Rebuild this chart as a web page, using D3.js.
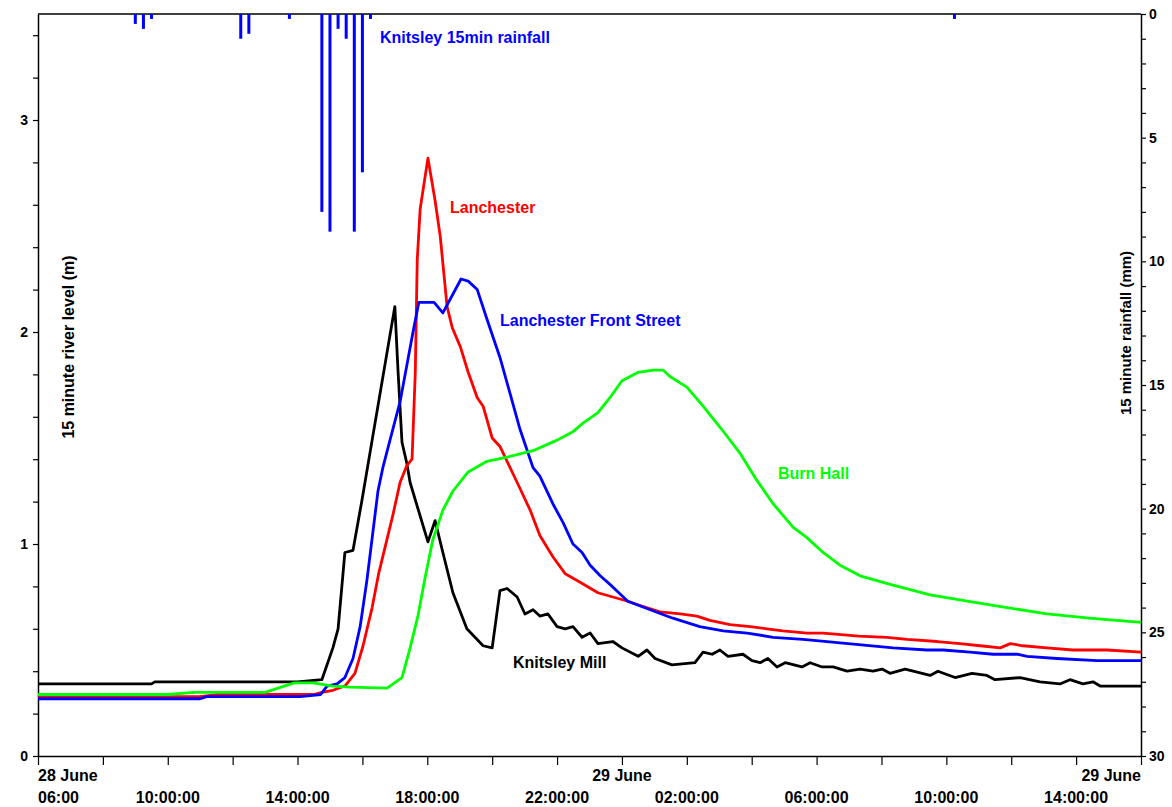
<!DOCTYPE html>
<html><head><meta charset="utf-8">
<script src="https://cdn.jsdelivr.net/npm/d3@7"></script>
<style>
body{margin:0;background:#fff}
svg{display:block}
text{font-family:"Liberation Sans",Arial,sans-serif}
</style>
</head><body>
<svg id="chart" width="1172" height="807"></svg>
<script>
// ---------- DATA ----------
const startTime = "2007-06-28T06:00:00";
const endTime   = "2007-06-29T16:00:00";

const levelTickLabels = [0, 1, 2, 3];
const rainTickLabels  = [0, 5, 10, 15, 20, 25, 30];
const timeTickLabels  = [
  {t: "2007-06-28T10:00:00", row2: "10:00:00"},
  {t: "2007-06-28T14:00:00", row2: "14:00:00"},
  {t: "2007-06-28T18:00:00", row2: "18:00:00"},
  {t: "2007-06-28T22:00:00", row2: "22:00:00"},
  {t: "2007-06-29T02:00:00", row2: "02:00:00"},
  {t: "2007-06-29T06:00:00", row2: "06:00:00"},
  {t: "2007-06-29T10:00:00", row2: "10:00:00"},
  {t: "2007-06-29T14:00:00", row2: "14:00:00"}
];
const dayLabels = ["28 June", "29 June", "29 June"];

// Knitsley 15 min rainfall (mm)
const rainTimes = ["2007-06-28T09:00","2007-06-28T09:15","2007-06-28T09:30",
  "2007-06-28T12:15","2007-06-28T12:30","2007-06-28T13:45",
  "2007-06-28T14:45","2007-06-28T15:00","2007-06-28T15:15","2007-06-28T15:30",
  "2007-06-28T15:45","2007-06-28T16:00","2007-06-28T16:15","2007-06-29T10:15"];
const rainValues = [0.4, 0.6, 0.2, 1.0, 0.8, 0.2, 8.0, 8.8, 0.6, 1.0, 8.8, 6.4, 0.2, 0.2];

// River levels (m); times as hours after 28 June 06:00
const knitsleyHours = [0,3.5,3.6,8.0,8.75,9.09,9.25,9.46,9.71,9.99,10.3,11.0,11.1,11.22,11.37,11.47,12.02,12.24,12.48,12.79,13.22,13.72,14.0,14.24,14.46,14.77,15.01,15.26,15.47,15.72,16.0,16.25,16.49,16.77,17.02,17.26,17.72,18.0,18.5,18.77,19.02,19.54,20.25,20.5,20.78,21.02,21.27,21.73,22.01,22.26,22.5,22.78,23.03,23.55,23.8,24.17,24.51,24.94,25.34,25.74,26.02,26.26,26.73,27.5,27.74,28.27,28.79,29.25,29.5,30.27,30.89,31.5,31.81,32.21,32.52,32.74,33.26,34.0];
const knitsleyLevels = [0.34,0.34,0.35,0.35,0.36,0.51,0.60,0.96,0.97,1.21,1.49,2.12,1.81,1.48,1.38,1.29,1.01,1.11,0.96,0.77,0.60,0.52,0.51,0.78,0.79,0.75,0.67,0.69,0.66,0.67,0.61,0.60,0.61,0.56,0.58,0.53,0.54,0.51,0.47,0.50,0.46,0.43,0.44,0.49,0.48,0.50,0.47,0.48,0.45,0.44,0.46,0.42,0.44,0.42,0.44,0.42,0.42,0.40,0.41,0.40,0.41,0.39,0.41,0.38,0.40,0.37,0.39,0.38,0.36,0.37,0.35,0.34,0.36,0.34,0.35,0.33,0.33,0.33];

const lanchesterHours = [0,5.0,5.5,8.5,8.75,9.09,9.46,9.77,10.02,10.3,10.5,10.93,11.16,11.37,11.53,11.63,11.69,11.78,12.02,12.24,12.4,12.61,12.77,13.02,13.26,13.54,13.72,14.0,14.24,14.46,14.77,15.17,15.47,15.87,16.25,16.71,17.26,17.72,18.18,18.56,19.17,19.8,20.31,20.71,21.33,21.95,22.47,22.96,23.7,24.2,25.3,26.17,26.79,27.72,28.42,29.04,29.66,29.97,30.36,31.1,31.9,32.33,32.95,34.0];
const lanchesterLevels = [0.28,0.28,0.29,0.29,0.30,0.31,0.33,0.39,0.52,0.70,0.86,1.13,1.29,1.37,1.40,1.81,2.34,2.58,2.82,2.62,2.45,2.12,2.02,1.93,1.81,1.69,1.65,1.50,1.46,1.39,1.29,1.16,1.04,0.94,0.86,0.82,0.77,0.75,0.73,0.71,0.68,0.67,0.66,0.64,0.62,0.61,0.60,0.59,0.58,0.58,0.565,0.56,0.55,0.54,0.53,0.52,0.51,0.53,0.52,0.51,0.50,0.50,0.50,0.49];

const frontStreetHours = [0,5.0,5.2,8.08,8.71,8.91,9.22,9.46,9.71,9.93,10.14,10.48,10.63,10.85,11.16,11.56,11.74,11.99,12.21,12.48,13.04,13.26,13.54,13.84,14.24,14.55,14.86,15.26,15.47,15.87,16.19,16.49,16.77,17.02,17.33,17.7,18.18,18.87,19.57,20.4,21.12,21.86,22.66,23.58,24.32,25.3,26.36,27.4,27.9,28.73,29.44,30.18,30.49,31.41,32.64,34.0];
const frontStreetLevels = [0.27,0.27,0.28,0.28,0.29,0.33,0.34,0.37,0.46,0.61,0.83,1.25,1.36,1.49,1.67,2.00,2.14,2.14,2.14,2.09,2.25,2.24,2.20,2.06,1.88,1.71,1.54,1.36,1.32,1.19,1.10,1.00,0.96,0.90,0.85,0.80,0.73,0.69,0.65,0.61,0.59,0.58,0.56,0.55,0.54,0.525,0.51,0.50,0.50,0.49,0.48,0.48,0.47,0.46,0.45,0.45];

const burnHallHours = [0,4.0,4.8,7.0,7.4,7.9,8.47,9.09,9.62,10.76,11.22,11.47,11.71,11.93,12.17,12.48,12.79,13.26,13.84,14.46,15.26,16.0,16.49,16.8,17.26,17.63,18.0,18.5,18.96,19.27,19.48,20.0,20.5,21.08,21.63,22.16,22.66,23.27,23.7,24.2,24.72,25.34,26.27,27.5,28.64,29.87,31.1,32.4,34.0];
const burnHallLevels = [0.29,0.29,0.30,0.30,0.32,0.345,0.345,0.33,0.325,0.32,0.37,0.51,0.66,0.84,1.02,1.16,1.25,1.34,1.39,1.41,1.44,1.49,1.53,1.57,1.62,1.69,1.77,1.81,1.82,1.82,1.79,1.74,1.65,1.54,1.43,1.30,1.19,1.08,1.03,0.96,0.90,0.85,0.81,0.76,0.73,0.70,0.67,0.65,0.63];

const seriesNames  = ["Knitsley Mill", "Lanchester", "Lanchester Front Street", "Burn Hall"];
const seriesColors = ["#000000", "#ff0000", "#0000ff", "#00ff00"];

// ---------- CHART ----------
const svg = d3.select("#chart");
const L = 38, R = 1141, T = 14, B = 756;
const t0 = new Date(startTime), t1 = new Date(endTime);
const hoursToDate = h => new Date(t0.getTime() + h * 3600e3);

const x  = d3.scaleTime().domain([t0, t1]).range([L, R]);
const yL = d3.scaleLinear().domain([0, 3.5]).range([B, T]);
const yR = d3.scaleLinear().domain([0, 30]).range([T, B]);

svg.append("rect").attr("width", 1172).attr("height", 807).attr("fill", "#fff");

// left axis
const leftTicks = d3.range(0, 3.41, 0.2).map(v => +v.toFixed(1));
const gL = svg.append("g").attr("transform", `translate(${L},0)`)
  .call(d3.axisLeft(yL).tickValues(leftTicks).tickSize(5).tickSizeOuter(0)
    .tickFormat(d => levelTickLabels.includes(d) ? d : ""));
// right axis
const gR = svg.append("g").attr("transform", `translate(${R},0)`)
  .call(d3.axisRight(yR).tickValues(d3.range(0, 31)).tickSize(5).tickSizeOuter(0)
    .tickFormat(d => rainTickLabels.includes(d) ? d : ""));
// bottom axis
const gB = svg.append("g").attr("transform", `translate(0,${B})`)
  .call(d3.axisBottom(x).ticks(d3.timeHour.every(2)).tickSize(9).tickSizeOuter(0).tickFormat(""));
[gL, gR, gB].forEach(g => {
  g.selectAll("path.domain").attr("stroke", "#000").attr("stroke-width", 1.5);
  g.selectAll(".tick line").attr("stroke", "#000").attr("stroke-width", 1.2);
  g.selectAll("text").attr("fill", "#000").style("font-size", "14px").style("font-weight", "bold")
    .style("font-family", '"Liberation Sans", Arial, sans-serif');
});
gL.selectAll("text").attr("x", -10);
gR.selectAll("text").attr("x", 8);
// top frame line
svg.append("line").attr("x1", L).attr("x2", R).attr("y1", T).attr("y2", T)
  .attr("stroke", "#000").attr("stroke-width", 1.5);

// time labels
const lab = svg.append("g").style("font-size", "16px").style("font-weight", "bold").attr("fill", "#000");
lab.append("text").attr("x", x(t0)).attr("y", 781).text(dayLabels[0]);
lab.append("text").attr("x", x(t0)).attr("y", 803).text("06:00");
lab.append("text").attr("x", x(new Date("2007-06-29T00:00:00"))).attr("y", 781).attr("text-anchor", "middle").text(dayLabels[1]);
lab.append("text").attr("x", x(t1)).attr("y", 781).attr("text-anchor", "end").text(dayLabels[2]);
timeTickLabels.forEach(d => {
  lab.append("text").attr("x", x(new Date(d.t))).attr("y", 803).attr("text-anchor", "middle").text(d.row2);
});

// axis titles
svg.append("text").attr("transform", `translate(74,${(T + B) / 2 - 38}) rotate(-90)`)
  .attr("text-anchor", "middle").style("font-size", "16px").style("font-weight", "bold").text("15 minute river level (m)");
svg.append("text").attr("transform", `translate(1131,${(T + B) / 2 - 52}) rotate(-90)`)
  .attr("text-anchor", "middle").style("font-size", "15px").style("font-weight", "bold").text("15 minute rainfall (mm)");

// rainfall bars
svg.append("g").selectAll("rect").data(rainTimes.map((t, i) => ({t: new Date(t), v: rainValues[i]})))
  .join("rect")
  .attr("x", d => x(d.t) - 1.5).attr("width", 3)
  .attr("y", yR(0)).attr("height", d => yR(d.v) - yR(0))
  .attr("fill", "#0000ff");

// river level lines
const seriesData = [
  knitsleyHours.map((h, i) => [h, knitsleyLevels[i]]),
  lanchesterHours.map((h, i) => [h, lanchesterLevels[i]]),
  frontStreetHours.map((h, i) => [h, frontStreetLevels[i]]),
  burnHallHours.map((h, i) => [h, burnHallLevels[i]])
];
const line = d3.line().x(d => x(hoursToDate(d[0]))).y(d => yL(d[1]));
seriesData.forEach((s, i) => {
  svg.append("path").datum(s).attr("d", line).attr("fill", "none")
    .attr("stroke", seriesColors[i]).attr("stroke-width", 2.8).attr("stroke-linejoin", "round");
});

// in-chart labels
const annot = [
  {text: "Knitsley 15min rainfall", x: 380, y: 43, c: "#0000ff"},
  {text: seriesNames[1], x: 450, y: 213, c: seriesColors[1]},
  {text: seriesNames[2], x: 500, y: 326, c: seriesColors[2]},
  {text: seriesNames[3], x: 778, y: 479, c: seriesColors[3]},
  {text: seriesNames[0], x: 513, y: 668, c: seriesColors[0]}
];
svg.append("g").selectAll("text").data(annot).join("text")
  .attr("x", d => d.x).attr("y", d => d.y).attr("fill", d => d.c)
  .style("font-size", "16px").style("font-weight", "bold").text(d => d.text);
</script>
</body></html>
